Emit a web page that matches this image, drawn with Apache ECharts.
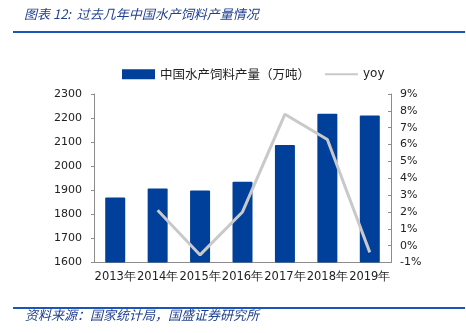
<!DOCTYPE html>
<html>
<head>
<meta charset="utf-8">
<script src="https://cdn.jsdelivr.net/npm/echarts@6/dist/echarts.min.js"></script>
<style>
  html, body { margin: 0; padding: 0; background: #fff; }
  #chart { width: 466px; height: 333px; }
</style>
</head>
<body>
<div id="chart"></div>
<script>
// Aquatic feed output in China, 2013-2019
const years = ['2013年', '2014年', '2015年', '2016年', '2017年', '2018年', '2019年'];
const output = [1870, 1907, 1899, 1935, 2088, 2218, 2211];          // 万吨
const yoy = [null, 2.1, -0.55, 2.0, 7.8, 6.3, -0.4];                 // %
const leftTicks = { min: 1600, max: 2300, interval: 100 };
const rightTicks = { min: -1, max: 9, interval: 1 };

const cjk = '"Noto Sans CJK SC", sans-serif';
const num = '"DejaVu Sans", sans-serif';
const blue = '#00409a';
const grey = '#c9c9c9';
const axisGrey = '#8c8c8c';

const chart = echarts.init(document.getElementById('chart'), null, { renderer: 'canvas' });

chart.setOption({
  animation: false,
  backgroundColor: '#fff',
  graphic: [
    { type: 'text', left: 24, top: 8,
      style: { text: '图表 12:  过去几年中国水产饲料产量情况', font: 'italic 13px ' + cjk, fill: '#1f3f8f' } },
    { type: 'rect', shape: { x: 13, y: 31, width: 452, height: 2 }, style: { fill: '#1a56b8' } },
    { type: 'rect', shape: { x: 13, y: 307, width: 452, height: 2 }, style: { fill: '#1a56b8' } },
    { type: 'text', left: 25, top: 309,
      style: { text: '资料来源：国家统计局，国盛证券研究所', font: 'italic 13px ' + cjk, fill: '#1f3f8f' } }
  ],
  legend: {
    left: 117, top: 63,
    itemGap: 14,
    itemWidth: 33, itemHeight: 10,
    textStyle: { fontSize: 12.5, color: '#222', fontFamily: cjk },
    data: [
      { name: '中国水产饲料产量（万吨）', icon: 'rect' },
      { name: 'yoy', textStyle: { fontFamily: num, fontSize: 12 }, itemStyle: { opacity: 0 } }
    ]
  },
  grid: { left: 94, right: 75, top: 94, height: 168.5 },
  xAxis: {
    type: 'category',
    data: years,
    axisLine: { onZero: false, lineStyle: { color: axisGrey } },
    axisTick: { inside: true, length: 4, lineStyle: { color: axisGrey } },
    axisLabel: { color: '#222', fontSize: 11.5, fontFamily: num, margin: 9, interval: 0 }
  },
  yAxis: [
    {
      type: 'value', min: leftTicks.min, max: leftTicks.max, interval: leftTicks.interval,
      splitLine: { show: false },
      axisLine: { show: true, lineStyle: { color: axisGrey } },
      axisTick: { show: true, length: 3, lineStyle: { color: axisGrey } },
      axisLabel: { color: '#222', fontSize: 11, fontFamily: num, margin: 12, formatter: v => String(v) }
    },
    {
      type: 'value', min: rightTicks.min, max: rightTicks.max, interval: rightTicks.interval,
      splitLine: { show: false },
      axisLine: { show: true, lineStyle: { color: axisGrey } },
      axisTick: { show: true, inside: true, length: 3, lineStyle: { color: axisGrey } },
      axisLabel: { color: '#222', fontSize: 11, fontFamily: num, margin: 9, formatter: '{value}%' }
    }
  ],
  series: [
    {
      name: '中国水产饲料产量（万吨）',
      type: 'bar',
      data: output,
      barWidth: 20,
      itemStyle: { color: blue, borderRadius: 1 }
    },
    {
      name: 'yoy',
      type: 'line',
      yAxisIndex: 1,
      data: yoy,
      symbol: 'none',
      lineStyle: { color: grey, width: 3 },
      itemStyle: { color: grey }
    }
  ]
});
</script>
</body>
</html>
